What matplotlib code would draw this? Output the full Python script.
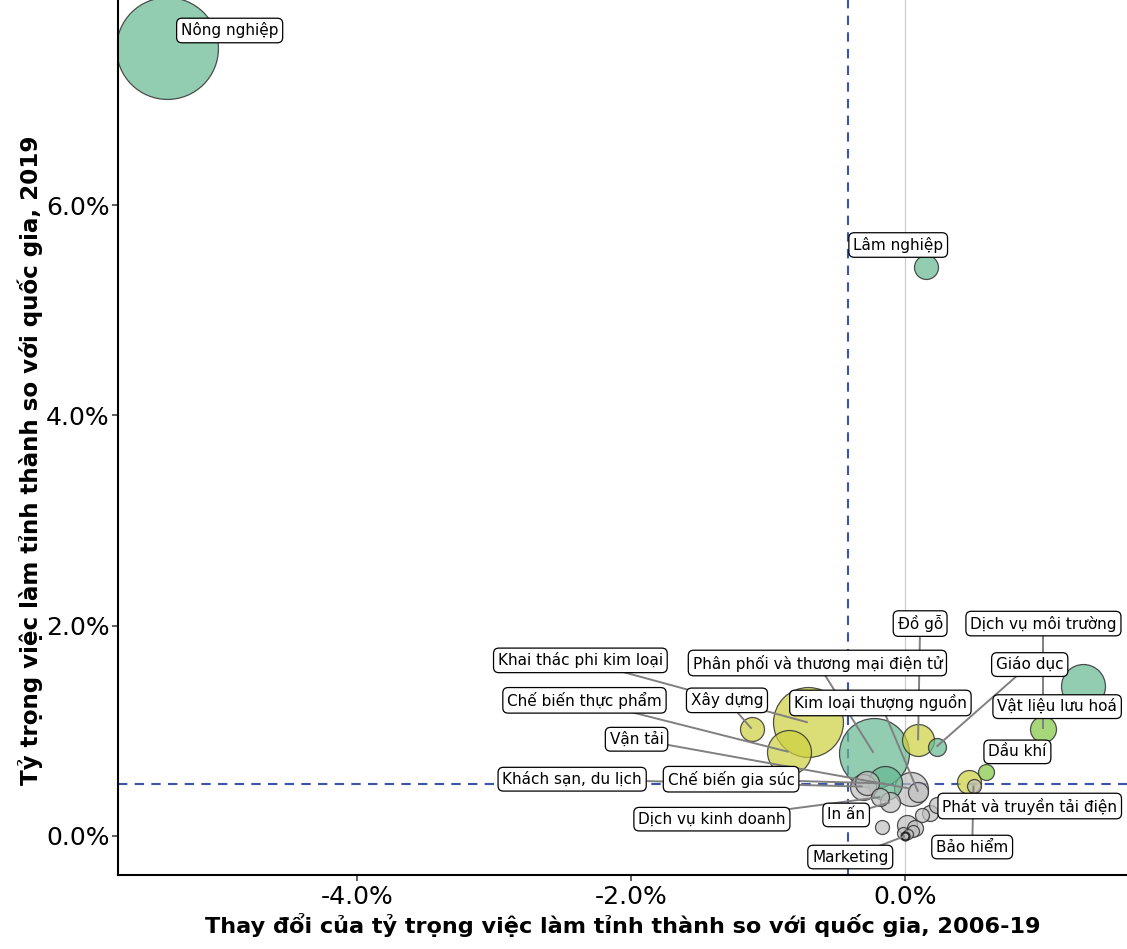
import matplotlib
matplotlib.use("Agg")
import matplotlib.pyplot as plt
from matplotlib.colors import to_rgba
from matplotlib.ticker import FuncFormatter, FixedLocator

plt.rcParams["font.family"] = ["DejaVu Sans"]

# Ngành: thay đổi tỷ trọng (2006-19, %), tỷ trọng 2019 (%), quy mô việc làm, nhóm
nganh = [
    "Nông nghiệp", "Lâm nghiệp", "Vật liệu lưu hoá", "Dịch vụ môi trường",
    "Dầu khí", "Phát và truyền tải điện", "Bảo hiểm", "Đồ gỗ", "Giáo dục",
    "Phân phối và thương mại điện tử", "Khai thác phi kim loại", "Xây dựng",
    "Chế biến thực phẩm", "Vận tải", "Kim loại thượng nguồn",
    "Khách sạn, du lịch", "Chế biến gia súc", "In ấn", "Dịch vụ kinh doanh",
    "Marketing",
    "", "", "", "", "", "", "", "", "", "",
]
thay_doi = [
    -5.39, 0.15, 1.30, 1.01,
    0.59, 0.47, 0.50, 0.095, 0.23,
    -0.23, -0.71, -1.12,
    -0.85, 0.04, 0.095,
    -0.31, -0.15, -0.11, -0.18,
    0.00,
    0.18, 0.12, -0.17, 0.015, 0.07, -0.015, 0.23, -0.28, 0.06, 0.02,
]
ty_trong = [
    7.49, 5.41, 1.43, 1.02,
    0.61, 0.51, 0.48, 0.91, 0.85,
    0.79, 1.08, 1.02,
    0.80, 0.45, 0.42,
    0.47, 0.50, 0.32, 0.37,
    0.00,
    0.22, 0.20, 0.09, 0.10, 0.08, 0.03, 0.29, 0.50, 0.05, 0.02,
]
viec_lam = [
    2600, 144, 484, 169,
    64, 144, 49, 256, 81,
    1225, 1225, 144,
    484, 289, 100,
    169, 289, 100, 81,
    16,
    64, 49, 49, 100, 64, 36, 64, 144, 36, 25,
]
nhom = [
    "xanh", "xanh", "xanh", "la",
    "la", "vang", "xam", "vang", "xanh",
    "xanh", "vang", "vang",
    "vang", "xam", "xam",
    "xam", "xanh", "xam", "xam",
    "xam",
    "xam", "xam", "xam", "xam", "xam", "xam", "xam", "xam", "xam", "xam",
]

# Đường tham chiếu (trung bình)
tb_thay_doi = -0.42
tb_ty_trong = 0.494

x_ticks = [-4.0, -2.0, 0.0]
y_ticks = [0.0, 2.0, 4.0, 6.0]

# Vị trí nhãn
nhan_vi_tri = {
    "Nông nghiệp": (-4.93, 7.66),
    "Lâm nghiệp": (-0.05, 5.62),
    "Đồ gỗ": (0.11, 2.02),
    "Dịch vụ môi trường": (1.01, 2.02),
    "Phân phối và thương mại điện tử": (-0.64, 1.645),
    "Giáo dục": (0.91, 1.63),
    "Kim loại thượng nguồn": (-0.18, 1.265),
    "Vật liệu lưu hoá": (1.11, 1.23),
    "Dầu khí": (0.82, 0.80),
    "Phát và truyền tải điện": (0.91, 0.285),
    "Bảo hiểm": (0.49, -0.105),
    "In ấn": (-0.43, 0.20),
    "Marketing": (-0.40, -0.20),
    "Khai thác phi kim loại": (-2.37, 1.67),
    "Chế biến thực phẩm": (-2.34, 1.29),
    "Xây dựng": (-1.30, 1.29),
    "Vận tải": (-1.96, 0.92),
    "Khách sạn, du lịch": (-2.43, 0.54),
    "Chế biến gia súc": (-1.27, 0.54),
    "Dịch vụ kinh doanh": (-1.41, 0.16),
}
khong_noi = {"Nông nghiệp", "Lâm nghiệp", "Dầu khí", "Phát và truyền tải điện", "Vật liệu lưu hoá"}

mau = {"xanh": "#66B891", "vang": "#CDD03E", "la": "#80C641", "xam": "#C0C0C0"}

fig = plt.figure(figsize=(11.27, 9.49), dpi=100)
ax = fig.add_axes([118 / 1127, 74 / 949, 1009 / 1127, 875 / 949])

ax.set_xlim(-5.745, 1.62)
ax.set_ylim(-0.371, 7.95)

# Đường tham chiếu
ax.axvline(0, color="#cccccc", lw=0.9, zorder=1)
ax.axvline(tb_thay_doi, color="#3A55A8", lw=1.5, ls=(0, (4.5, 3.5)), zorder=1)
ax.axhline(tb_ty_trong, color="#3A55A8", lw=1.5, ls=(0, (4.5, 3.5)), zorder=1)

# Bong bóng: lớn vẽ trước
thu_tu = sorted(range(len(nganh)), key=lambda i: -viec_lam[i])
for i in thu_tu:
    mk = nganh[i] == "Marketing"
    ax.scatter(thay_doi[i], ty_trong[i], s=viec_lam[i] * 2.07,
               facecolors=[to_rgba(mau[nhom[i]], 0.7)],
               edgecolors=[to_rgba("#111111" if mk else "#333333", 0.85)],
               linewidths=1.6 if mk else 0.9, zorder=2)

# Nhãn và đường nối
for i, ten in enumerate(nganh):
    if ten not in nhan_vi_tri:
        continue
    lx, ly = nhan_vi_tri[ten]
    if ten not in khong_noi:
        ax.plot([thay_doi[i], lx], [ty_trong[i], ly], color="#808080",
                lw=1.4, zorder=3, solid_capstyle="butt")
    ax.text(lx, ly, ten, ha="center", va="center", fontsize=11,
            color="black", zorder=5,
            bbox=dict(boxstyle="round,pad=0.28,rounding_size=0.35",
                      fc="white", ec="black", lw=0.9))

# Trục
for s in ("top", "right"):
    ax.spines[s].set_visible(False)
for s in ("left", "bottom"):
    ax.spines[s].set_linewidth(1.5)
    ax.spines[s].set_color("black")

ax.xaxis.set_major_locator(FixedLocator(x_ticks))
ax.yaxis.set_major_locator(FixedLocator(y_ticks))
fmt = FuncFormatter(lambda v, p: f"{v:.1f}%")
ax.xaxis.set_major_formatter(fmt)
ax.yaxis.set_major_formatter(fmt)
ax.tick_params(axis="both", length=4, width=1.1, color="#333333",
               labelsize=18, labelcolor="black", pad=3)
ax.tick_params(axis="y", pad=2)

ax.set_xlabel("Thay đổi của tỷ trọng việc làm tỉnh thành so với quốc gia, 2006-19",
              fontsize=16.1, fontweight="bold", labelpad=3)
ax.set_ylabel("Tỷ trọng việc làm tỉnh thành so với quốc gia, 2019",
              fontsize=16.6, fontweight="bold")
ax.yaxis.set_label_coords(-0.0745, 0.474)

fig.savefig("out.png", dpi=100)
